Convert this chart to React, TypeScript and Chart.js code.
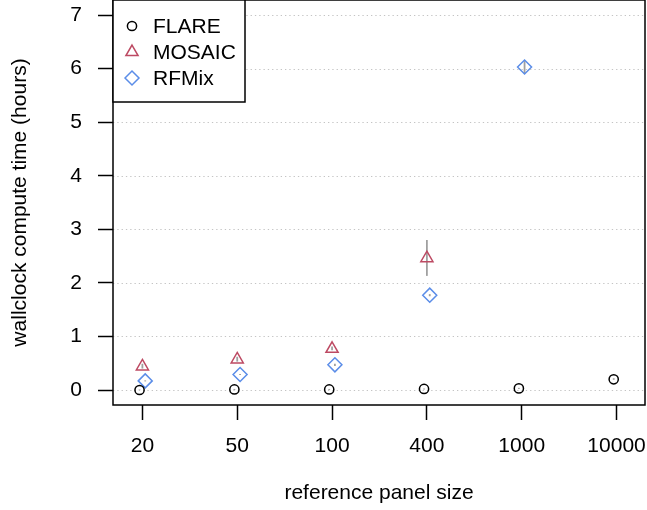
import React, { useEffect, useRef } from 'react';
import { Chart, registerables } from 'chart.js';

Chart.register(...registerables);

// ---- data ----
const categories = ['20', '50', '100', '400', '1000', '10000'];
const seriesNames = ['FLARE', 'MOSAIC', 'RFMix'];
const flare = [0.0, 0.01, 0.01, 0.02, 0.03, 0.2];
const mosaic = [0.44, 0.57, 0.77, 2.46, null, null];
const rfmix = [0.17, 0.29, 0.47, 1.77, 6.03, null];
const flareLo = [0.0, 0.0, 0.0, 0.01, 0.02, 0.19];
const flareHi = [0.01, 0.02, 0.02, 0.03, 0.04, 0.22];
const mosaicLo = [0.4, 0.53, 0.74, 2.13, null, null];
const mosaicHi = [0.49, 0.62, 0.81, 2.8, null, null];
const rfmixLo = [0.16, 0.28, 0.45, 1.75, 5.91, null];
const rfmixHi = [0.18, 0.3, 0.49, 1.79, 6.14, null];
const yTicks = [0, 1, 2, 3, 4, 5, 6, 7];
const xTitle = 'reference panel size';
const yTitle = 'wallclock compute time (hours)';

const FONT = "'Liberation Sans', Arial, Helvetica, sans-serif";
const colors = ['#000000', '#BD4A63', '#5B8DE8'];
const styles = ['circle', 'triangle', 'rectRot'];
const radii = [4.6, 7, 7];
const offsets = [-0.03, 0, 0.03];

const toPoints = (vals: (number | null)[], off: number) =>
  vals.map((v, i) => ({ x: i + 1 + off, y: v }));

const zeroPad = (s: any) => {
  s.paddingTop = 0;
  s.paddingBottom = 0;
  s.paddingLeft = 0;
  s.paddingRight = 0;
};

const rbasePlugin = {
  id: 'rbase',
  beforeDatasetsDraw(chart: any) {
    const { ctx, chartArea, scales } = chart;
    const xs = scales.x;
    const ys = scales.y;
    ctx.save();
    // dotted horizontal grid lines
    ctx.strokeStyle = '#c4c4c4';
    ctx.lineWidth = 1.2;
    ctx.setLineDash([1.3, 3]);
    yTicks.forEach((t) => {
      const py = Math.round(ys.getPixelForValue(t)) + 0.5;
      ctx.beginPath();
      ctx.moveTo(chartArea.left, py);
      ctx.lineTo(chartArea.right, py);
      ctx.stroke();
    });
    ctx.setLineDash([]);
    // error bars
    ctx.strokeStyle = '#a0a0a0';
    ctx.lineWidth = 1.8;
    chart.data.datasets.forEach((ds: any) => {
      ds.data.forEach((p: any, i: number) => {
        const lo = ds.errLo[i];
        const hi = ds.errHi[i];
        if (lo == null || hi == null) return;
        const px = xs.getPixelForValue(p.x);
        ctx.beginPath();
        ctx.moveTo(px, ys.getPixelForValue(lo));
        ctx.lineTo(px, ys.getPixelForValue(hi));
        ctx.stroke();
      });
    });
    ctx.restore();
  },
  afterDatasetsDraw(chart: any) {
    const { ctx, chartArea } = chart;
    ctx.save();
    // box
    ctx.strokeStyle = '#000';
    ctx.lineWidth = 1.5;
    ctx.strokeRect(chartArea.left, chartArea.top, chartArea.right - chartArea.left, chartArea.bottom - chartArea.top);
    // legend
    const lx = chartArea.left;
    const ly = chartArea.top;
    const lw = 132;
    const lh = 102;
    ctx.fillStyle = '#fff';
    ctx.fillRect(lx, ly, lw, lh);
    ctx.strokeRect(lx, ly, lw, lh);
    seriesNames.forEach((name, k) => {
      const cy = ly + 26 + k * 26;
      const cx = lx + 19;
      ctx.strokeStyle = colors[k];
      ctx.lineWidth = 1.5;
      ctx.beginPath();
      if (k === 0) {
        ctx.arc(cx, cy, radii[0], 0, Math.PI * 2);
      } else if (k === 1) {
        const r = radii[1];
        for (let j = 0; j < 3; j++) {
          const a = (j * 2 * Math.PI) / 3;
          const px = cx + Math.sin(a) * r;
          const py = cy - Math.cos(a) * r;
          if (j === 0) ctx.moveTo(px, py);
          else ctx.lineTo(px, py);
        }
        ctx.closePath();
      } else {
        const r = radii[2];
        ctx.moveTo(cx - r, cy);
        ctx.lineTo(cx, cy - r);
        ctx.lineTo(cx + r, cy);
        ctx.lineTo(cx, cy + r);
        ctx.closePath();
      }
      ctx.stroke();
      ctx.fillStyle = '#000';
      ctx.font = `21px ${FONT}`;
      ctx.textAlign = 'left';
      ctx.textBaseline = 'middle';
      ctx.fillText(name, lx + 40, cy + 1);
    });
    // axis titles
    ctx.fillStyle = '#000';
    ctx.font = `21px ${FONT}`;
    ctx.textAlign = 'center';
    ctx.textBaseline = 'middle';
    ctx.fillText(xTitle, (chartArea.left + chartArea.right) / 2, 493);
    ctx.save();
    ctx.translate(20, (chartArea.top + chartArea.bottom) / 2);
    ctx.rotate(-Math.PI / 2);
    ctx.fillText(yTitle, 0, 0);
    ctx.restore();
    ctx.restore();
  },
};

export default function App() {
  const ref = useRef<HTMLCanvasElement | null>(null);
  useEffect(() => {
    if (!ref.current) return;
    const seriesVals = [flare, mosaic, rfmix];
    const los = [flareLo, mosaicLo, rfmixLo];
    const his = [flareHi, mosaicHi, rfmixHi];
    const chart = new Chart(ref.current, {
      type: 'scatter',
      data: {
        datasets: seriesNames.map((name, k) => ({
          label: name,
          data: toPoints(seriesVals[k], offsets[k]),
          errLo: los[k],
          errHi: his[k],
          pointStyle: styles[k],
          pointRadius: radii[k],
          pointHoverRadius: radii[k],
          borderColor: colors[k],
          backgroundColor: 'rgba(0,0,0,0)',
          pointBorderWidth: 1.5,
          borderWidth: 1.5,
          showLine: false,
        })) as any,
      },
      options: {
        animation: false,
        responsive: false,
        maintainAspectRatio: false,
        layout: { autoPadding: false, padding: { top: 0, right: 2, left: 0, bottom: 0 } },
        plugins: { legend: { display: false }, tooltip: { enabled: false } },
        events: [],
        scales: {
          x: {
            type: 'linear',
            min: 0.69,
            max: 6.3,
            afterBuildTicks: (s: any) => {
              s.ticks = categories.map((_, i) => ({ value: i + 1 }));
            },
            afterFit: (s: any) => {
              s.height = 105;
              zeroPad(s);
            },
            ticks: {
              callback: (v: any) => categories[Math.round(v) - 1] ?? '',
              font: { size: 21, family: FONT },
              color: '#000',
              padding: 14,
              maxRotation: 0,
              autoSkip: false,
            },
            grid: {
              drawOnChartArea: false,
              drawTicks: true,
              tickLength: 15,
              tickColor: '#000',
              tickWidth: 1.5,
              color: '#000',
            },
            border: { display: false },
          },
          y: {
            type: 'linear',
            min: -0.28,
            max: 7.28,
            afterBuildTicks: (s: any) => {
              s.ticks = yTicks.map((v) => ({ value: v }));
            },
            afterFit: (s: any) => {
              s.width = 113;
              zeroPad(s);
            },
            ticks: {
              callback: (v: any) => String(v),
              font: { size: 21, family: FONT },
              color: '#000',
              padding: 16,
              autoSkip: false,
            },
            grid: {
              drawOnChartArea: false,
              drawTicks: true,
              tickLength: 15,
              tickColor: '#000',
              tickWidth: 1.5,
              color: '#000',
            },
            border: { display: false },
          },
        },
      },
      plugins: [rbasePlugin],
    });
    return () => chart.destroy();
  }, []);
  return (
    <div style={{ position: 'absolute', left: 0, top: 0, width: 647, height: 510, background: '#fff' }}>
      <canvas ref={ref} width={647} height={510} style={{ display: 'block' }} />
    </div>
  );
}
